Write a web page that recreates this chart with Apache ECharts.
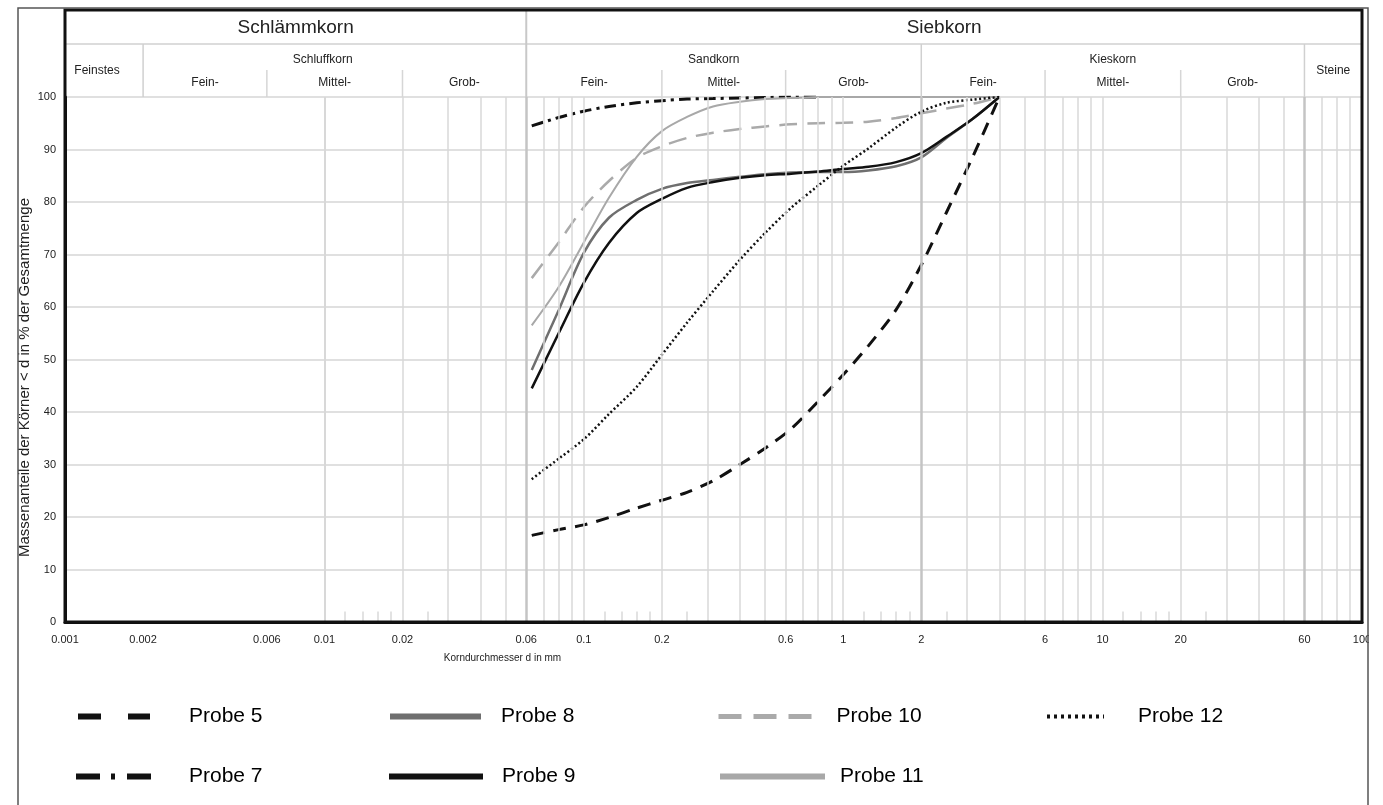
<!DOCTYPE html>
<html>
<head>
<meta charset="utf-8">
<title>Körnungslinien Probe 5 - 12</title>
<script src="https://cdn.jsdelivr.net/npm/echarts@6/dist/echarts.min.js"></script>
<style>
  html, body { margin: 0; padding: 0; background: #fff; }
  #chart { width: 1383px; height: 805px; }
</style>
</head>
<body>
<div id="chart"></div>
<script>
// Korndurchmesser d in mm (Siebweiten)
var sizes = [0.063, 0.08, 0.1, 0.125, 0.16, 0.2, 0.25, 0.315, 0.4, 0.5, 0.63, 0.8, 1, 1.25, 1.6, 2, 2.5, 3.15, 4];

// Siebdurchgang in %
var probe5  = [16.5, 17.6, 18.5, 19.9, 21.7, 23.2, 24.7, 26.9, 30.0, 33.1, 36.8, 42.0, 47.1, 52.6, 59.5, 68.0, 78.0, 88.5, 100];
var probe7  = [94.5, 96.1, 97.3, 98.2, 98.9, 99.3, 99.6, 99.7, 99.8, 99.9, 100, 100, null, null, null, null, null, null, null];
var probe8  = [48.0, 59.4, 70.3, 77.0, 80.4, 82.5, 83.6, 84.2, 84.8, 85.3, 85.6, 85.7, 85.7, 86.0, 86.8, 88.5, 92.2, 95.8, 100];
var probe9  = [44.5, 55.0, 64.6, 72.2, 77.9, 80.6, 82.7, 83.8, 84.6, 85.1, 85.4, 85.8, 86.3, 86.7, 87.6, 89.3, 92.4, 95.8, 100];
var probe10 = [65.5, 72.3, 79.0, 84.0, 88.4, 90.6, 92.2, 93.2, 93.9, 94.4, 94.8, 95.0, 95.1, 95.3, 96.0, 96.9, 97.8, 98.7, 100];
var probe11 = [56.5, 63.8, 72.3, 80.8, 88.6, 93.5, 96.2, 98.2, 99.1, 99.6, 99.8, 100, 100, 100, 100, 100, 100, 100, 100];
var probe12 = [27.2, 31.1, 34.8, 39.6, 44.8, 50.9, 57.0, 63.0, 69.0, 74.1, 78.9, 83.1, 86.9, 90.2, 94.2, 97.2, 98.9, 99.5, 100];

// Achsbeschriftung
var tickValues = [0.001, 0.002, 0.006, 0.01, 0.02, 0.06, 0.1, 0.2, 0.6, 1, 2, 6, 10, 20, 60, 100];
var tickLabels = ['0.001', '0.002', '0.006', '0.01', '0.02', '0.06', '0.1', '0.2', '0.6', '1', '2', '6', '10', '20', '60', '100'];

// Gitterlinien (volle Hoehe), Grenzlinien, kurze Striche
var gridLines = [0.003, 0.004, 0.005, 0.006, 0.007, 0.008, 0.009, 0.01, 0.02, 0.03, 0.04, 0.05, 0.07, 0.08, 0.09,
                 0.1, 0.2, 0.3, 0.4, 0.5, 0.6, 0.7, 0.8, 0.9, 1, 3, 4, 5, 6, 7, 8, 9, 10, 20, 30, 40, 50, 70, 80, 90];
var borderLines = [0.002, 0.06, 2, 60];
var shortTicks = [0.012, 0.014, 0.016, 0.018, 0.025, 0.12, 0.14, 0.16, 0.18, 0.25,
                  1.2, 1.4, 1.6, 1.8, 2.5, 12, 14, 16, 18, 25];

// Kopfzeilen: [Text, von d, bis d]
var headTop = [['Schlämmkorn', 0.001, 0.06], ['Siebkorn', 0.06, 100]];
var headMid = [['Feinstes', 0.001, 0.002], ['Schluffkorn', 0.002, 0.06], ['Sandkorn', 0.06, 2], ['Kieskorn', 2, 60], ['Steine', 60, 100]];
var headSub = [['Fein-', 0.002, 0.006], ['Mittel-', 0.006, 0.02], ['Grob-', 0.02, 0.06],
               ['Fein-', 0.06, 0.2], ['Mittel-', 0.2, 0.6], ['Grob-', 0.6, 2],
               ['Fein-', 2, 6], ['Mittel-', 6, 20], ['Grob-', 20, 60]];
var subLines = [0.006, 0.02, 0.2, 0.6, 6, 20];

var FONT = '"Liberation Sans", Arial, Helvetica, sans-serif';

function pairs(vals) {
    return sizes.map(function (d, i) { return [d, vals[i]]; });
}

function probe(name, vals, color, width, type) {
    return {
        name: name, type: 'line', data: pairs(vals),
        symbol: 'none', smooth: 0.3, connectNulls: false,
        lineStyle: { color: color, width: width, type: type, cap: 'butt' },
        itemStyle: { color: color },
        z: 3
    };
}

var marks = [];
gridLines.forEach(function (v) { marks.push({ xAxis: v }); });
borderLines.forEach(function (v) { marks.push({ xAxis: v, lineStyle: { color: '#c4c4c4', width: 2.5 } }); });
shortTicks.forEach(function (v) { marks.push([{ coord: [v, 0] }, { coord: [v, 2] }]); });

// Legenden: je Probe eine eigene, damit die Abstaende wie im Original sind
function legend(name, left, top, w, pad, lw, lt) {
    return {
        data: [name], left: left, top: top, itemWidth: w, itemHeight: 22,
        selectedMode: false, padding: 0,
        itemStyle: { color: 'rgba(0,0,0,0)', borderWidth: 0 },
        lineStyle: { width: lw, type: lt, cap: 'butt' },
        textStyle: { fontSize: 21, color: '#000', fontFamily: FONT, padding: [0, 0, 0, pad] }
    };
}

var option = {
    animation: false,
    grid: { left: 65, right: 21, top: 97, bottom: 183, containLabel: false, outerBoundsMode: 'none' },
    xAxis: {
        type: 'log', logBase: 10, min: 0.001, max: 100,
        name: 'Korndurchmesser d in mm', nameLocation: 'middle', nameGap: 31,
        nameTextStyle: { fontSize: 10, color: '#222', fontFamily: FONT, padding: [0, 422, 0, 0] },
        axisLine: { lineStyle: { color: '#111', width: 3 } },
        axisTick: { show: false },
        splitLine: { show: false },
        minorSplitLine: { show: false },
        axisLabel: {
            customValues: tickValues, margin: 12, fontSize: 11, color: '#222', fontFamily: FONT,
            formatter: function (v) {
                for (var i = 0; i < tickValues.length; i++) {
                    if (Math.abs(Math.log10(v) - Math.log10(tickValues[i])) < 1e-6) return tickLabels[i];
                }
                return '';
            }
        }
    },
    yAxis: {
        type: 'value', min: 0, max: 100, interval: 10,
        name: 'Massenanteile der Körner < d in % der Gesamtmenge', nameLocation: 'middle', nameGap: 33,
        nameRotate: 90, nameMoveOverlap: false,
        nameTextStyle: { fontSize: 15, color: '#222', fontFamily: FONT, padding: [0, 36, 0, 0] },
        axisLine: { show: true, lineStyle: { color: '#111', width: 3 } },
        axisTick: { show: false },
        axisLabel: { fontSize: 11, color: '#222', fontFamily: FONT, margin: 9, padding: [0, 0, 6, 0] },
        splitLine: { lineStyle: { color: '#d6d6d6', width: 1.5 } }
    },
    legend: [
        legend('Probe 5', 75, 706, 72, 34, 6, [23, 27]),
        legend('Probe 8', 387, 706, 91, 15, 6, 'solid'),
        legend('Probe 10', 716, 706, 93, 20, 5, [23, 12]),
        legend('Probe 12', 1045, 706, 57, 29, 4, [3, 4]),
        legend('Probe 7', 73, 766, 82, 26, 6, [24, 11, 4, 12]),
        legend('Probe 9', 386, 766, 94, 14, 6, 'solid'),
        legend('Probe 11', 717, 766, 105, 10, 6, 'solid')
    ],
    series: [
        {
            name: 'Raster', type: 'line', data: [], z: 1, silent: true,
            markLine: {
                silent: true, symbol: ['none', 'none'], label: { show: false },
                lineStyle: { color: '#d9d9d9', width: 1.5, type: 'solid' },
                emphasis: { disabled: true },
                data: marks
            }
        },
        probe('Probe 5', probe5, '#111', 3, [13, 9]),
        probe('Probe 7', probe7, '#111', 3, [12, 5, 3, 5]),
        probe('Probe 8', probe8, '#6f6f6f', 2.5, 'solid'),
        probe('Probe 9', probe9, '#111', 2.5, 'solid'),
        probe('Probe 10', probe10, '#aaaaaa', 2.5, [18, 10]),
        probe('Probe 11', probe11, '#a8a8a8', 2, 'solid'),
        probe('Probe 12', probe12, '#111', 2.5, [2, 2.5])
    ]
};

var chart = echarts.init(document.getElementById('chart'));
chart.setOption(option);

// Kopf (Bodenklassen) und Rahmen aus den Achsen abgeleitet
var px = function (v) { return chart.convertToPixel({ xAxisIndex: 0 }, v); };
var py = function (v) { return chart.convertToPixel({ yAxisIndex: 0 }, v); };
var x0 = px(0.001), x1 = px(100), yTop = py(100), yBot = py(0);
var frameTop = 10, rowMid = 44, rowSub = 70;
// kleine Verschiebungen der Kopfbeschriftung wie im Original
var nudge = { 'Schluffkorn': -12, 'Sandkorn': -10, 'Feinstes': -7 };

var els = [];
function vline(v, ya, yb, color, w) {
    els.push({ type: 'line', z: 50, silent: true,
        shape: { x1: px(v), y1: ya, x2: px(v), y2: yb },
        style: { stroke: color, lineWidth: w } });
}
function label(t, a, b, y, size) {
    els.push({ type: 'text', z: 50, silent: true,
        style: { text: t, x: (px(a) + px(b)) / 2 + (nudge[t] || 0), y: y, align: 'center', verticalAlign: 'middle',
                 textAlign: 'center', textVerticalAlign: 'middle',
                 font: size + 'px ' + FONT, fill: '#222' } });
}

els.push({ type: 'line', z: 50, silent: true, shape: { x1: x0, y1: rowMid, x2: x1, y2: rowMid },
           style: { stroke: '#d0d0d0', lineWidth: 1.5 } });
vline(0.06, frameTop, yTop, '#c8c8c8', 2);
[0.002, 2, 60].forEach(function (v) { vline(v, rowMid, yTop, '#d0d0d0', 1.5); });
subLines.forEach(function (v) { vline(v, rowSub, yTop, '#d6d6d6', 1.5); });

headTop.forEach(function (h) { label(h[0], h[1], h[2], 28, 19); });
headMid.forEach(function (h) {
    var y = (h[0] === 'Feinstes' || h[0] === 'Steine') ? 71 : 60;
    label(h[0], h[1], h[2], y, 12);
});
headSub.forEach(function (h) { label(h[0], h[1], h[2], 83, 12); });

// dicker Rahmen um Kopf und Diagramm
els.push({ type: 'rect', z: 60, silent: true,
    shape: { x: x0, y: frameTop, width: x1 - x0, height: yBot - frameTop },
    style: { fill: 'none', stroke: '#111', lineWidth: 3 } });
// duenner Aussenrahmen
els.push({ type: 'rect', z: 70, silent: true, shape: { x: 1369, y: 0, width: 20, height: 805 },
           style: { fill: '#fff' } });
els.push({ type: 'rect', z: 71, silent: true, shape: { x: 18, y: 8, width: 1350, height: 820 },
           style: { fill: 'none', stroke: '#555', lineWidth: 1.5 } });

chart.setOption({ graphic: { elements: els } });
</script>
</body>
</html>
